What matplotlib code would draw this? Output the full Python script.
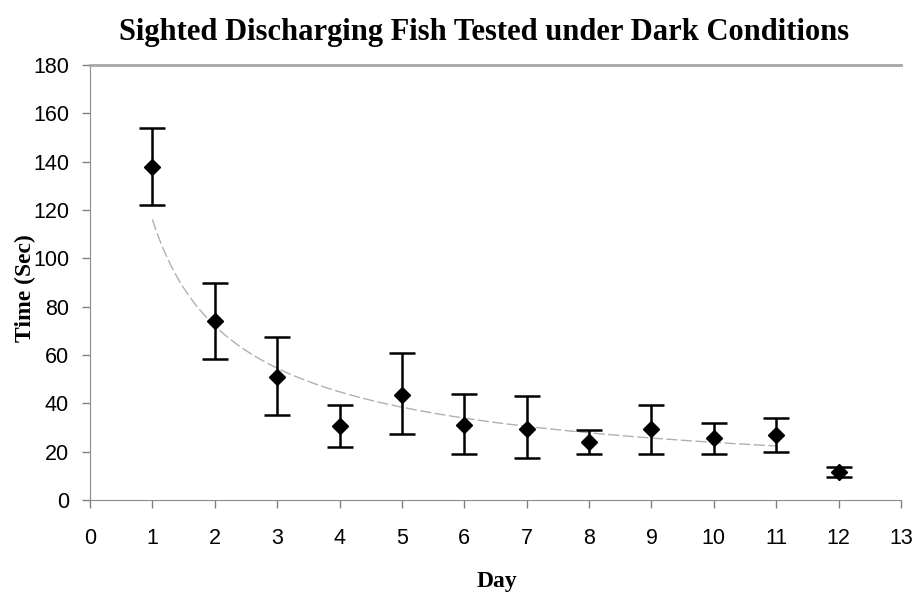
import numpy as np
import matplotlib.pyplot as plt

# Mean latency per training day with error bar limits (seconds)
days = [1, 2, 3, 4, 5, 6, 7, 8, 9, 10, 11, 12]
mean_time = [138, 74, 51, 30.5, 43.5, 31, 29.5, 24, 29.5, 25.5, 27, 11.5]
upper = [154, 90, 67.5, 39.5, 61, 44, 43, 29, 39.5, 32, 34, 13.5]
lower = [122, 58.5, 35, 22, 27.5, 19, 17.5, 19, 19, 19, 20, 9.5]

x_ticks = list(range(0, 14))
y_ticks = list(range(0, 181, 20))

TITLE = "Sighted Discharging Fish Tested under Dark Conditions"
SERIF = ["Liberation Serif", "DejaVu Serif"]
SANS = ["Liberation Sans", "DejaVu Sans"]


def main():
    fig = plt.figure(figsize=(9.17, 5.97), dpi=100)
    ax = fig.add_axes([0.0981, 0.1625, 0.8845, 0.7285])

    d = np.array(days, dtype=float)
    m = np.array(mean_time)
    yerr = [m - np.array(lower), np.array(upper) - m]

    # power trendline (Excel style) over days 1-11
    fit_x = d[:11]
    b, ln_a = np.polyfit(np.log(fit_x), np.log(m[:11]), 1)
    xs = np.linspace(1, 11, 200)
    ax.plot(xs, np.exp(ln_a) * xs ** b, color="#b0b0b0", lw=1.0,
            linestyle=(0, (8, 2.5)), zorder=1)

    ax.errorbar(d, m, yerr=yerr, fmt="D", color="black", ms=8,
                ecolor="black", elinewidth=1.8, capsize=9.5, capthick=1.8,
                zorder=3)

    ax.set_xlim(0, 13)
    ax.set_ylim(0, 180)
    ax.set_xticks(x_ticks)
    ax.set_yticks(y_ticks)
    for lbl in ax.get_xticklabels() + ax.get_yticklabels():
        lbl.set_family(SANS)
        lbl.set_fontsize(15.5)
    ax.tick_params(axis="both", direction="out", length=6, width=1,
                   color="#808080")
    ax.tick_params(axis="x", pad=14)
    ax.tick_params(axis="y", pad=9)

    ax.spines["right"].set_visible(False)
    ax.spines["left"].set_color("#8c8c8c")
    ax.spines["bottom"].set_color("#8c8c8c")
    ax.spines["top"].set_color("#a6a6a6")
    ax.spines["top"].set_linewidth(2)

    fig.text(0.528, 0.945, TITLE, ha="center", va="center",
             family=SERIF, fontweight="bold", fontsize=22)
    fig.text(0.542, 0.026, "Day", ha="center", va="center",
             family=SERIF, fontweight="bold", fontsize=17)
    fig.text(0.028, 0.518, "Time (Sec)", ha="center", va="center",
             rotation=90, family=SERIF, fontweight="bold", fontsize=17)

    fig.savefig("out.png", dpi=100)
    plt.close(fig)


if __name__ == "__main__":
    main()
